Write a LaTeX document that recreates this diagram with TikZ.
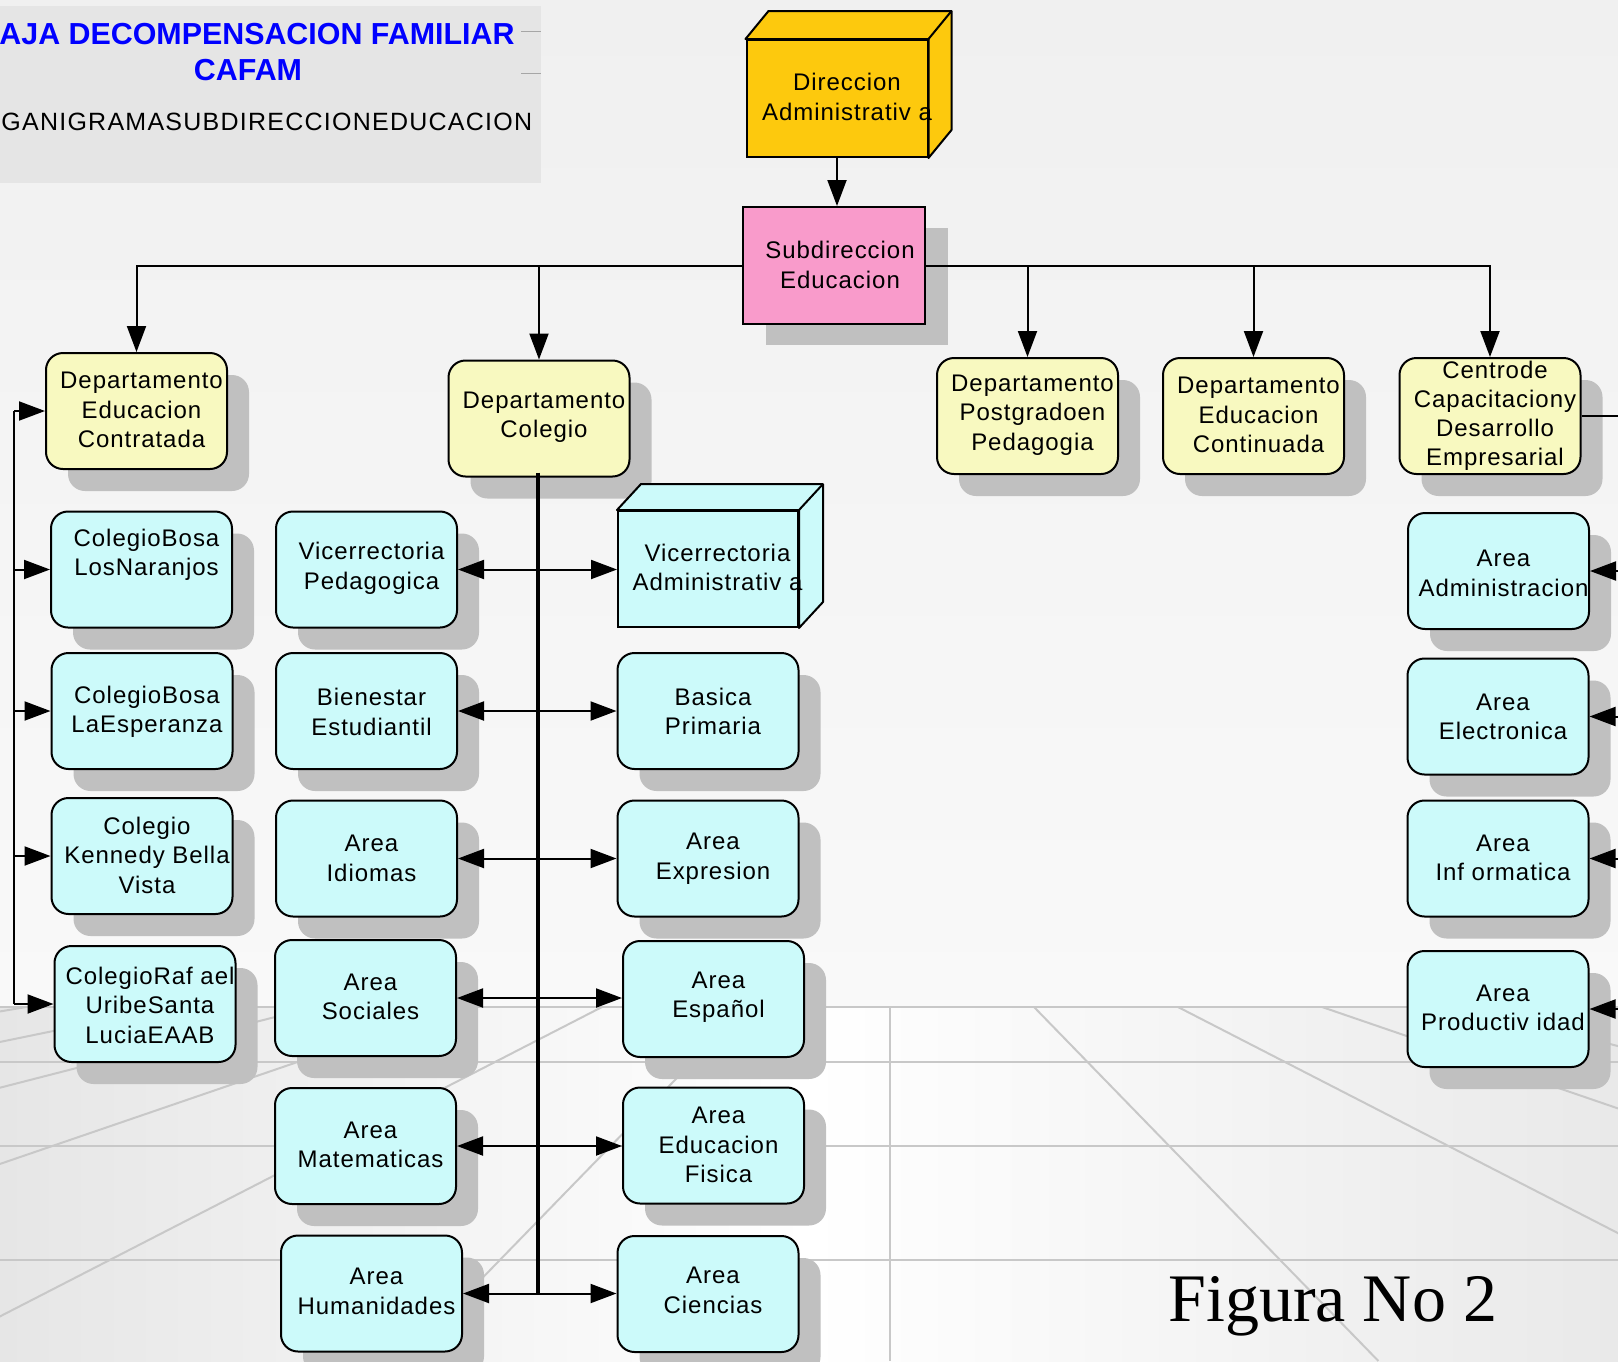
\documentclass[tikz,border=0pt]{standalone}
\usepackage{fontspec}
\setmainfont{Liberation Sans}
\newfontfamily\bxf[LetterSpace=4]{Liberation Sans}
\newfontfamily\subf[LetterSpace=5]{Liberation Sans}
\newfontfamily\figf{Liberation Serif}
\usetikzlibrary{arrows.meta,shadows,calc}
\definecolor{cyanbox}{HTML}{CCFAFA}
\definecolor{yelbox}{HTML}{F8F9C0}
\definecolor{pinkbox}{HTML}{F99BCB}
\definecolor{orgbox}{HTML}{FDC90D}
\definecolor{shd}{HTML}{C0C0C0}
\definecolor{gridc}{HTML}{C8C8C8}
\definecolor{ttlbg}{HTML}{E5E5E5}
\definecolor{wallt}{HTML}{F0F0F0}
\definecolor{wallb}{HTML}{F9F9F9}
\definecolor{floorl}{HTML}{E6E6E6}
\definecolor{floorr}{HTML}{E9E9E9}
\begin{document}
\begin{tikzpicture}[x=0.5pt,y=-0.5pt,
  boxshadow/.style={copy shadow={draw=none, fill=shd, shadow xshift=11pt, shadow yshift=-11pt}},
  rbox/.style={draw=black, line width=1pt, rounded corners=8.5pt, minimum width=90.5pt, minimum height=58pt, inner sep=0pt, boxshadow},
  cbox/.style={rbox, fill=cyanbox},
  ybox/.style={rbox, fill=yelbox},
  cube/.style={draw=black, line width=1pt, minimum width=90pt, minimum height=58pt, inner sep=0pt},
  face/.style={draw=black, line width=1pt, line join=round},
  txt/.style={font=\bxf\fontsize{12pt}{14.75pt}\selectfont, align=center, inner sep=0pt},
  conn/.style={line width=1pt, -{Triangle[length=13pt,width=9.5pt]}},
  plainline/.style={line width=1pt},
  gridline/.style={draw=gridc, line width=1pt},
]
\useasboundingbox (0,0) rectangle (1618,1361);
\clip (0,0) rectangle (1618,1361);
% background
\shade[top color=wallt, bottom color=wallb] (0,0) rectangle (1618,1007);
\shade[left color=floorl, right color=floorr, middle color=white] (0,1007) rectangle (1618,1361);
% floor grid
\foreach \k in {-6,...,5} {\draw[gridline] ({890+144*\k},1007) -- ({890+488.4*\k},1361);}
\foreach \yy in {1007,1062,1146,1260} {\draw[gridline] (0,\yy) -- (1618,\yy);}
% title block
\fill[ttlbg] (0,6) rectangle (541,183);
\draw[gray!70, line width=0.5pt] (521,31) -- (541,31) (521,73) -- (541,73);
\node[anchor=base west, inner sep=0pt, text=blue, font=\fontsize{15.2pt}{18pt}\selectfont\bfseries] (t1) at (-1,44) {AJA DECOMPENSACION FAMILIAR};
\node[anchor=base, inner sep=0pt, text=blue, font=\fontsize{15.2pt}{18pt}\selectfont\bfseries] (t2) at (248,80) {CAFAM};
\node[anchor=base west, inner sep=0pt, font=\subf\fontsize{12.5pt}{14pt}\selectfont] (t3) at (1,130) {GANIGRAMASUBDIRECCIONEDUCACION};
% Direccion (3D box)
\node[cube, fill=orgbox, minimum width=90.5pt, minimum height=58.5pt] (dir) at (837,98.5) {};
\draw[face, fill=orgbox] (dir.north west) -- ++(23,-28) -- ($(dir.north east)+(23,-28)$) -- ($(dir.south east)+(23,-28)$) -- (dir.south east) -- (dir.north east) -- cycle;
\draw[face] (dir.north east) -- ++(23,-28);
\node[txt] (dir-t) at (847,97) {Direccion\\Administrativ a};
% Subdireccion
\node[draw=black, line width=1pt, fill=pinkbox, minimum width=91pt, minimum height=58.5pt, inner sep=0pt, copy shadow={draw=none, fill=shd, shadow xshift=11.5pt, shadow yshift=-10.5pt}] (sub) at (834,265.5) {};
\node[txt] (sub-t) at (840,265) {Subdireccion\\Educacion};
% departments
\node[ybox] (dec) at (136.5,411) {};
\node[ybox] (dco) at (539,418.5) {};
\node[ybox] (dpo) at (1027.5,416) {};
\node[ybox] (dcn) at (1253.5,416) {};
\node[ybox] (cen) at (1490,416) {};
\node[txt] (dec-t) at (141.5,410) {Departamento\\Educacion\\Contratada};
\node[txt] (dco-t) at (544,417) {Departamento\\Colegio};
\node[txt] (dpo-t) at (1032.5,415) {Departamento\\Postgradoen\\Pedagogia};
\node[txt] (dcn-t) at (1258.5,415) {Departamento\\Educacion\\Continuada};
\node[txt, font=\bxf\fontsize{12pt}{14.5pt}\selectfont] (cen-t) at (1495,416) {Centrode\\Capacitaciony\\Desarrollo\\Empresarial};
% colegios
\node[cbox] (cb1) at (141.5,569.5) {};
\node[cbox] (cb2) at (142,711) {};
\node[cbox] (cb3) at (142,856) {};
\node[cbox] (cb4) at (145,1004) {};
\node[txt] (cb1-t) at (146.5,555) {ColegioBosa\\LosNaranjos};
\node[txt] (cb2-t) at (147,712) {ColegioBosa\\LaEsperanza};
\node[txt] (cb3-t) at (147,855) {Colegio\\Kennedy Bella\\Vista};
\node[txt] (cb4-t) at (150,1005) {ColegioRaf ael\\UribeSanta\\LuciaEAAB};
% colegio department, left column
\node[cbox] (vp) at (366.5,569.5) {};
\node[cbox] (be) at (366.5,711) {};
\node[cbox] (id) at (366.5,858.5) {};
\node[cbox] (so) at (365.5,998) {};
\node[cbox] (ma) at (365.5,1146) {};
\node[cbox] (hu) at (371.5,1293.5) {};
\node[txt] (vp-t) at (371.5,568.5) {Vicerrectoria\\Pedagogica};
\node[txt] (be-t) at (371.5,712) {Bienestar\\Estudiantil};
\node[txt] (id-t) at (371.5,858.5) {Area\\Idiomas};
\node[txt] (so-t) at (370.5,997) {Area\\Sociales};
\node[txt] (ma-t) at (370.5,1145) {Area\\Matematicas};
\node[txt] (hu-t) at (376.5,1291.5) {Area\\Humanidades};
% colegio department, right column
\node[cube, fill=cyanbox] (va) at (708,569) {};
\draw[face, fill=cyanbox] (va.north west) -- ++(24,-26) -- ($(va.north east)+(24,-26)$) -- ($(va.south east)+(24,-26)$) -- (va.south east) -- (va.north east) -- cycle;
\draw[face] (va.north east) -- ++(24,-26);
\node[txt] (va-t) at (717.5,567.5) {Vicerrectoria\\Administrativ a};
\node[cbox] (bp) at (708,711) {};
\node[cbox] (ex) at (708,858.5) {};
\node[cbox] (es) at (713.5,999) {};
\node[cbox] (ef) at (713.5,1145.5) {};
\node[cbox] (ci) at (708,1294) {};
\node[txt] (bp-t) at (713,711.5) {Basica\\Primaria};
\node[txt] (ex-t) at (713,858.5) {Area\\Expresion};
\node[txt] (es-t) at (718.5,997) {Area\\Español};
\node[txt] (ef-t) at (718.5,1145) {Area\\Educacion\\Fisica};
\node[txt] (ci-t) at (713,1290.5) {Area\\Ciencias};
% centro areas
\node[cbox] (aa) at (1498.5,571) {};
\node[cbox] (ae) at (1498,716.5) {};
\node[cbox] (ai) at (1498,858.5) {};
\node[cbox] (ap) at (1498,1009) {};
\node[txt] (aa-t) at (1503.5,573.5) {Area\\Administracion};
\node[txt] (ae-t) at (1503,717) {Area\\Electronica};
\node[txt] (ai-t) at (1503,858) {Area\\Inf ormatica};
\node[txt] (ap-t) at (1503,1008) {Area\\Productiv idad};
% figure caption
\node[anchor=base west, inner sep=0pt, font=\figf\fontsize{34pt}{40pt}\selectfont] (fig) at (1168,1321) {Figura No 2};
% connectors
\draw[conn] (dir.south) -- (dir.south |- sub.north);
\draw[conn] (sub.west) -| (dec.north);
\draw[conn] (sub.west) -| (dco.north);
\draw[conn] (sub.east) -| (dpo.north);
\draw[conn] (sub.east) -| (dcn.north);
\draw[conn] (sub.east) -| (cen.north);
% left bracket
\coordinate (lbx) at (14,0);
\draw[plainline] (dec.west -| lbx) -- (cb4.west -| lbx);
\foreach \n in {dec,cb1,cb2,cb3,cb4} {\draw[conn] (\n.west -| lbx) -- (\n.west);}
% right bracket
\coordinate (rbx) at (1645,0);
\draw[plainline] (cen.east) -- (cen.east -| rbx) -- (ap.east -| rbx);
\foreach \n in {aa,ae,ai,ap} {\draw[conn] (\n.east -| rbx) -- (\n.east);}
% spine of Departamento Colegio
\coordinate (sp0) at ($(dco.south)+(-1,-5)$);
\draw[line width=2pt] (sp0) -- (sp0 |- hu.east);
\foreach \l/\r in {vp/va,be/bp,id/ex,so/es,ma/ef,hu/ci} {
  \draw[conn] (\l.east -| sp0) -- (\l.east);
  \draw[conn] (\l.east -| sp0) -- (\l.east -| \r.west);
}
\end{tikzpicture}
\end{document}
